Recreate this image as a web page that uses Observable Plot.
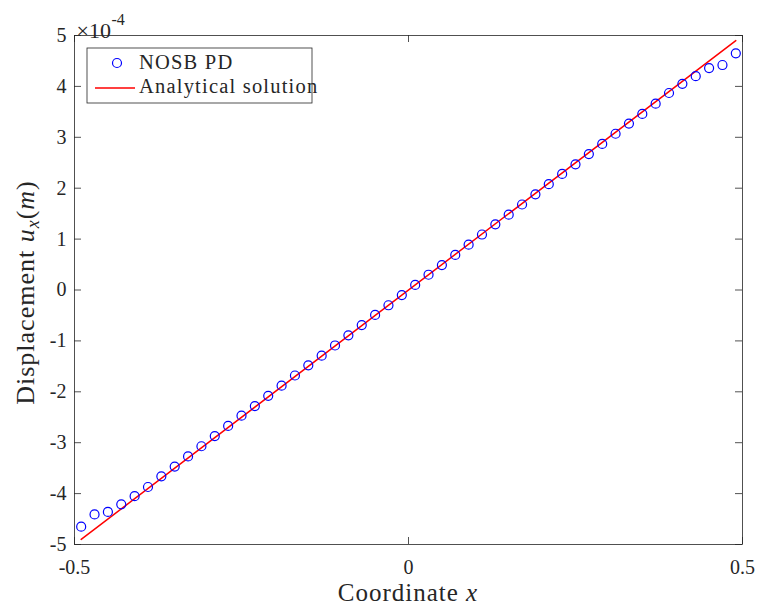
<!DOCTYPE html>
<html><head><meta charset="utf-8">
<script src="https://cdn.jsdelivr.net/npm/d3@7"></script>
<script src="https://cdn.jsdelivr.net/npm/@observablehq/plot@0.6"></script>
<style>
body{margin:0;background:#fff;}
#chart{width:758px;height:607px;}
</style></head><body><div id="chart"></div>
<script>
// ---- data ----
const xCoord = [-0.49, -0.47, -0.45, -0.43, -0.41, -0.39, -0.37, -0.35, -0.33, -0.31,
                -0.29, -0.27, -0.25, -0.23, -0.21, -0.19, -0.17, -0.15, -0.13, -0.11,
                -0.09, -0.07, -0.05, -0.03, -0.01, 0.01, 0.03, 0.05, 0.07, 0.09,
                0.11, 0.13, 0.15, 0.17, 0.19, 0.21, 0.23, 0.25, 0.27, 0.29,
                0.31, 0.33, 0.35, 0.37, 0.39, 0.41, 0.43, 0.45, 0.47, 0.49];
// NOSB PD displacement, in units of 1e-4 m
const nosbU = [-4.65, -4.41, -4.36, -4.21, -4.05, -3.87, -3.66, -3.47, -3.27, -3.07,
               -2.87, -2.67, -2.47, -2.28, -2.08, -1.88, -1.68, -1.48, -1.29, -1.09,
               -0.89, -0.69, -0.49, -0.30, -0.10, 0.10, 0.30, 0.49, 0.69, 0.89,
               1.09, 1.29, 1.48, 1.68, 1.88, 2.08, 2.28, 2.47, 2.67, 2.87,
               3.07, 3.27, 3.46, 3.66, 3.87, 4.05, 4.20, 4.36, 4.42, 4.65];
// Analytical solution, in units of 1e-4 m
const analyticX = [-0.49, 0.49];
const analyticU = [-4.9, 4.9];
const xTicks = [-0.5, 0, 0.5];
const xTickLabels = ["-0.5", "0", "0.5"];
const yTicks = [-5, -4, -3, -2, -1, 0, 1, 2, 3, 4, 5];
const yTickLabels = ["-5", "-4", "-3", "-2", "-1", "0", "1", "2", "3", "4", "5"];
const seriesNames = ["NOSB PD", "Analytical solution"];
const exponentBase = "\u00d710";
const exponentPower = "-4";

// ---- layout ----
const W = 758, H = 607, mL = 74, mR = 16, mT = 35, mB = 63;
const innerW = W - mL - mR, innerH = H - mT - mB;
const tickLen = 7;
const ink = "#262626";
const font = "'Liberation Serif', 'Times New Roman', serif";

const pts = xCoord.map((x, i) => ({x, u: nosbU[i]}));
const ana = analyticX.map((x, i) => ({x, u: analyticU[i]}));

const tickStyle = {stroke: ink, strokeWidth: 0.8};
const svg = Plot.plot({
  width: W, height: H,
  marginLeft: mL, marginRight: mR, marginTop: mT, marginBottom: mB,
  style: {fontFamily: font, background: "white", color: ink},
  x: {domain: [-0.5, 0.5]},
  y: {domain: [-5, 5]},
  marks: [
    Plot.tickY(yTicks, {y: d => d, insetRight: innerW - tickLen, ...tickStyle}),
    Plot.tickY(yTicks, {y: d => d, insetLeft: innerW - tickLen, ...tickStyle}),
    Plot.tickX(xTicks, {x: d => d, insetTop: innerH - tickLen, ...tickStyle}),
    Plot.tickX(xTicks, {x: d => d, insetBottom: innerH - tickLen, ...tickStyle}),
    Plot.axisX({ticks: xTicks, tickFormat: d => xTickLabels[xTicks.indexOf(d)], tickSize: 0, tickPadding: 15, fontSize: 20, label: null, fill: ink}),
    Plot.axisY({ticks: yTicks, tickFormat: d => yTickLabels[yTicks.indexOf(d)], tickSize: 0, tickPadding: 8, fontSize: 20, label: null, fill: ink}),
    Plot.text([exponentBase], {text: d => d, frameAnchor: "top-left", textAnchor: "start", lineAnchor: "bottom", dx: 2, dy: 2.5, fontSize: 22, fill: ink, letterSpacing: 1.5}),
    Plot.text([exponentPower], {text: d => d, frameAnchor: "top-left", textAnchor: "start", lineAnchor: "bottom", dx: 37, dy: -10.5, fontSize: 16, fill: ink}),
    Plot.line(ana, {x: "x", y: "u", stroke: "#ff0000", strokeWidth: 1.5}),
    Plot.dot(pts, {x: "x", y: "u", r: 4.5, stroke: "#0000ff", strokeWidth: 1.2, fill: "none"}),
    Plot.frame({stroke: ink, strokeWidth: 0.8})
  ]
});
document.getElementById("chart").append(svg);

// ---- rich-text axis labels and legend ----
const s = d3.select(svg);
const xl = s.append("text")
  .attr("x", mL + innerW / 2).attr("y", 601)
  .attr("text-anchor", "middle")
  .attr("font-family", font).attr("font-size", 25)
  .attr("letter-spacing", 1).attr("fill", ink);
xl.append("tspan").text("Coordinate ");
xl.append("tspan").attr("font-style", "italic").text("x");

const yl = s.append("text")
  .attr("transform", `translate(34,${mT + innerH / 2 + 3}) rotate(-90)`)
  .attr("text-anchor", "middle")
  .attr("font-family", font).attr("font-size", 26)
  .attr("letter-spacing", 1).attr("fill", ink);
yl.append("tspan").text("Displacement ");
yl.append("tspan").attr("font-style", "italic").text("u");
yl.append("tspan").attr("font-style", "italic").attr("font-size", 18).attr("dy", 5).text("x");
yl.append("tspan").attr("dy", -5).text("(");
yl.append("tspan").attr("font-style", "italic").text("m");
yl.append("tspan").text(")");

const lg = s.append("g").attr("font-family", font).attr("font-size", 20.5)
  .attr("fill", ink).attr("text-anchor", "start");
lg.append("rect").attr("x", 87).attr("y", 48).attr("width", 225).attr("height", 55)
  .attr("fill", "white").attr("stroke", ink).attr("stroke-width", 0.8);
lg.append("circle").attr("cx", 117).attr("cy", 63).attr("r", 4.5)
  .attr("fill", "none").attr("stroke", "#0000ff").attr("stroke-width", 1.2);
lg.append("text").attr("x", 139).attr("y", 69).attr("letter-spacing", 1.2).text(seriesNames[0]);
lg.append("line").attr("x1", 95).attr("x2", 135).attr("y1", 88).attr("y2", 88)
  .attr("stroke", "#ff0000").attr("stroke-width", 1.5);
lg.append("text").attr("x", 139).attr("y", 93).attr("letter-spacing", 1.2).text(seriesNames[1]);
</script>
</body></html>
